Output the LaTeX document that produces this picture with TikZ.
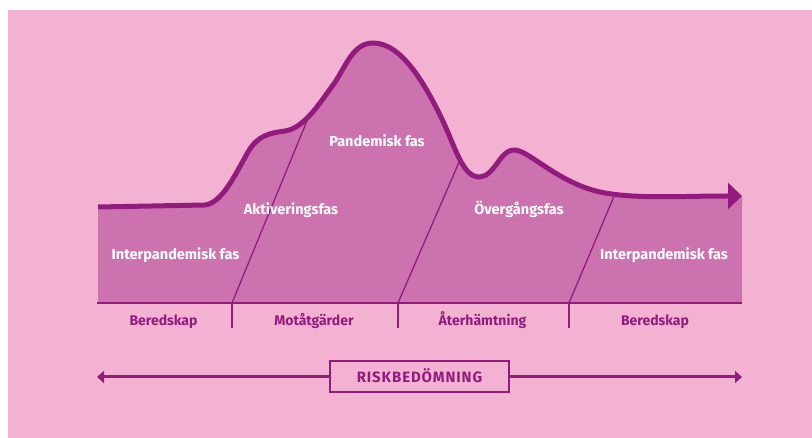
\documentclass[tikz,border=0pt]{standalone}
\usepackage{fontspec}
\setmainfont{Fira Sans}
\usetikzlibrary{arrows.meta}
\definecolor{bgpink}{RGB}{244,178,210}
\definecolor{areapink}{RGB}{204,115,175}
\definecolor{plum}{RGB}{145,28,125}
\tikzset{
  phase/.style={text=white,font=\fontsize{14.5}{16}\selectfont\bfseries,anchor=base,inner sep=0pt},
  task/.style={text=plum,font=\fontsize{14}{16}\selectfont\bfseries,anchor=base,inner sep=0pt},
  divider/.style={plum,line width=1.3pt},
  tick/.style={plum,line width=2pt},
  riskcurve/.style={insert path={(98,207) -- (205,205)
    .. controls (222,203) and (235,175) .. (248,152)
    .. controls (258,135) and (270,133) .. (285,131)
    .. controls (305,128) and (321,101) .. (333,85)
    .. controls (345,69) and (352,43) .. (373,43)
    .. controls (402,43) and (425,85) .. (440,115)
    .. controls (455,145) and (462,178) .. (480,177)
    .. controls (495,176) and (500,149) .. (515,150)
    .. controls (530,151) and (560,185) .. (605,193)
    .. controls (640,199) and (680,196) .. (728,196)}},
}
\begin{document}
\begin{tikzpicture}[x=1pt,y=-1pt]
  \useasboundingbox[fill=white] (0,0) rectangle (812,438);
  \fill[bgpink] (8,10) rectangle (812,438);

  \fill[areapink] [riskcurve] -- (742,196) -- (742,303) -- (98,303) -- cycle;

  \coordinate (s1) at (232,303);
  \coordinate (s2) at (398,303);
  \coordinate (s3) at (569,303);
  \coordinate (c1) at (309,116);
  \coordinate (c2) at (460,160);
  \coordinate (c3) at (615,194);
  \foreach \i in {1,2,3} {
    \draw[divider] (s\i) -- (c\i);
    \draw[tick] (s\i) -- ++(0,25);
  }
  \coordinate (basewest) at (97,303);
  \coordinate (baseeast) at (742,303);
  \draw[tick] (basewest) -- (baseeast);

  \draw[plum,line width=5pt,-{Triangle[length=14pt,width=26pt]}] [riskcurve] -- (742,196);

  \node[phase] (inter1) at (175.5,260) {Interpandemisk fas};
  \node[phase] (aktiv) at (291,215) {Aktiveringsfas};
  \node[phase] (pandem) at (377,147) {Pandemisk fas};
  \node[phase] (overg) at (519,215) {Övergångsfas};
  \node[phase] (inter2) at (664,260) {Interpandemisk fas};

  \node[task] (bered1) at (163.5,326) {Beredskap};
  \node[task] (motat) at (314,326) {Motåtgärder};
  \node[task] (ater) at (482.5,326) {Återhämtning};
  \node[task] (bered2) at (655,326) {Beredskap};

  \node[draw=plum,line width=2pt,minimum width=179pt,minimum height=31pt,
    inner sep=0pt,text height=12pt,text depth=0pt,text=plum,
    font=\fontsize{15}{17}\selectfont\bfseries\addfontfeature{LetterSpace=6}]
    (risk) at (419.5,377) {RISKBEDÖMNING};
  \coordinate (riskstart) at (97,377);
  \coordinate (riskend) at (742,377);
  \draw[plum,line width=3pt,{Triangle[length=7pt,width=12pt]}-] (riskstart) -- (risk.west);
  \draw[plum,line width=3pt,-{Triangle[length=7pt,width=12pt]}] (risk.east) -- (riskend);
\end{tikzpicture}
\end{document}
